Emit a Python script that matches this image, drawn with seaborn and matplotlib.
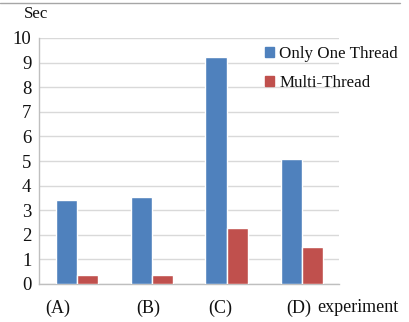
import matplotlib
matplotlib.use("Agg")
import matplotlib.pyplot as plt
import matplotlib.transforms as mtransforms
from matplotlib.lines import Line2D
import pandas as pd
import seaborn as sns

# Data
experiments = ["(A)", "(B)", "(C)", "(D)"]
single_thread = [3.41, 3.52, 9.24, 5.07]
multi_thread = [0.35, 0.38, 2.29, 1.49]
series_names = ["Only One Thread", "Multi-Thread"]
y_ticks = list(range(0, 11))

df = pd.DataFrame({
    "experiment": experiments * 2,
    "seconds": single_thread + multi_thread,
    "series": [series_names[0]] * 4 + [series_names[1]] * 4,
})

sns.set_style("white")
plt.rcParams["font.family"] = ["Liberation Serif", "DejaVu Serif"]

W, H = 409, 322
fig = plt.figure(figsize=(W / 100, H / 100), dpi=100)
ax = fig.add_axes([39 / W, (H - 284) / H, 300 / W, 246 / H])

palette = {series_names[0]: "#4F81BD", series_names[1]: "#C0504D"}
sns.barplot(data=df, x="experiment", y="seconds", hue="series",
            order=experiments, hue_order=series_names, palette=palette,
            width=0.56, saturation=1, ax=ax, legend=False, zorder=3)

ax.set_ylim(0, 10)
ax.set_xlim(-0.5, 3.5)
ax.set_yticks(y_ticks)
ax.yaxis.grid(True, color="#d9d9d9", linewidth=1.0, zorder=0)
ax.set_axisbelow(True)
for side in ["top", "right"]:
    ax.spines[side].set_visible(False)
for side in ["left", "bottom"]:
    ax.spines[side].set_color("#bfbfbf")
    ax.spines[side].set_linewidth(1.0)

fs = 12.2
ax.tick_params(axis="y", length=4.3, width=1.0, color="#d9d9d9",
               pad=1.2, labelsize=13.5, labelcolor="#111111")
ax.tick_params(axis="x", length=0, pad=11.5, labelsize=13, labelcolor="#111111")
ax.set_ylabel("")
ax.set_xticks(range(len(experiments)))
ax.set_xticklabels(experiments)

# nudge category labels slightly left
shifts = [-19, -3, -6.5, -2.5]
for lab, dx in zip(ax.get_xticklabels(), shifts):
    lab.set_transform(lab.get_transform() +
                      mtransforms.ScaledTranslation(dx / 100, 0, fig.dpi_scale_trans))

ax.set_xlabel("experiment", fontsize=13, color="#111111")
ax.xaxis.set_label_coords((358 - 39) / 300, -23 / 246)
ax.xaxis.label.set_verticalalignment("center")

# unit label above the y axis
fig.text(24 / W, 1 - 14 / H, "Sec", fontsize=fs, va="center", ha="left",
         color="#111111")

# legend
handles = [plt.Rectangle((0, 0), 1, 1, color=palette[s]) for s in series_names]
fig.legend(handles, series_names, loc="upper left",
           bbox_to_anchor=(265 / W, 1 - 46 / H), frameon=False,
           fontsize=fs, handlelength=0.55, handleheight=0.55,
           handletextpad=0.3, labelspacing=0.75, borderaxespad=0,
           borderpad=0, labelcolor="#111111")

# thin rule along the top edge
fig.add_artist(Line2D([0, 400 / W], [1 - 2.5 / H, 1 - 2.5 / H],
                      transform=fig.transFigure, color="#a6a6a6", linewidth=1.0))

fig.savefig("out.png", dpi=100)
